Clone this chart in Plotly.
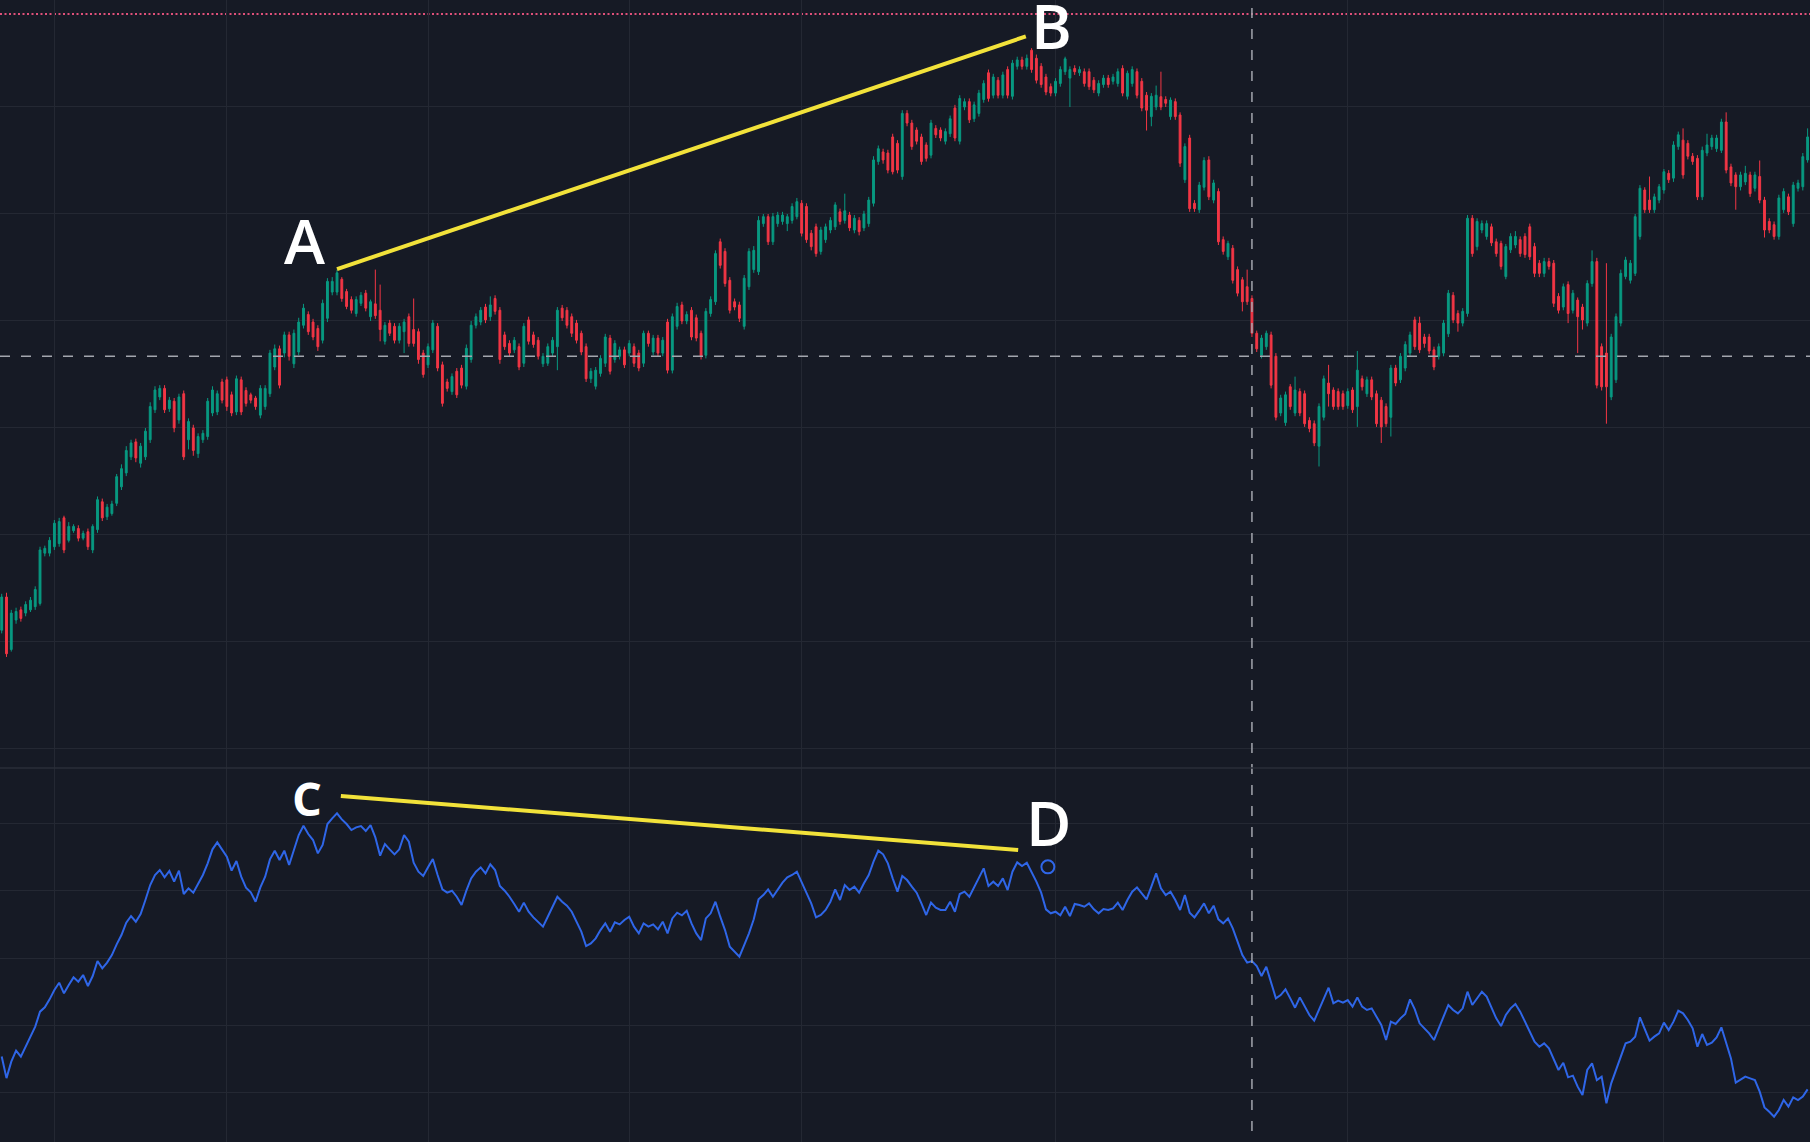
import plotly.graph_objects as go

# daily candles (price units)
opens = [
    141.1, 144.2, 139.3, 142.05, 143.0, 142.7, 143.0, 143.3, 143.6, 148.3,
    148.3, 148.9, 149.2, 151.6, 149.5, 150.4, 150.6, 149.7, 150.3, 148.6,
    150.5, 153.1, 151.7, 152.0, 152.96, 154.5, 155.8, 157.3, 158.7, 156.7,
    157.3, 158.9, 161.7, 162.9, 163.7, 161.8, 162.5, 160.75, 163.2, 158.9,
    160.0, 157.6, 158.9, 159.2, 161.4, 161.5, 164.3, 164.5, 163.1, 161.5,
    164.5, 163.5, 163.1, 162.8, 161.2, 162.0, 163.2, 165.7, 167.4, 167.0,
    168.7, 166.0, 167.1, 169.6, 170.6, 169.9, 169.3, 168.2, 170.25, 172.7,
    172.7, 173.9, 172.75, 172.0, 170.7, 171.65, 172.6, 170.4, 171.6, 171.0,
    168.1, 169.8, 169.5, 168.2, 169.0, 170.4, 169.2, 169.0, 167.0, 165.9,
    167.3, 169.5, 165.9, 164.3, 163.4, 165.3, 165.6, 163.9, 166.4, 169.6,
    169.9, 171.3, 170.4, 172.1, 171.0, 168.7, 167.9, 167.3, 167.6, 166.05,
    170.1, 168.7, 168.2, 166.0, 166.05, 167.0, 167.6, 171.2, 171.0, 170.4,
    169.8, 168.85, 167.6, 164.6, 163.9, 165.1, 166.05, 168.4, 166.4, 166.7,
    167.3, 167.0, 167.6, 167.0, 166.05, 168.85, 167.1, 168.4, 167.0, 169.9,
    165.4, 169.5, 171.5, 170.0, 171.0, 170.3, 168.85, 166.8, 170.7, 171.8,
    177.4, 176.5, 173.8, 171.8, 171.5, 169.5, 173.2, 174.8, 174.6, 179.1,
    179.75, 177.4, 179.1, 179.3, 179.1, 179.4, 179.75, 181.0, 180.7, 178.2,
    178.8, 176.5, 177.6, 178.5, 178.8, 180.2, 179.4, 179.9, 178.5, 179.4,
    178.7, 179.1, 181.0, 184.9, 185.8, 185.7, 187.2, 186.6, 183.5, 189.4,
    188.5, 187.85, 187.2, 186.45, 185.5, 188.0, 187.85, 186.8, 187.5, 189.9,
    186.8, 190.0, 190.5, 188.9, 189.4, 190.7, 193.2, 191.1, 192.5, 191.1,
    193.5, 191.0, 193.8, 194.4, 193.8, 195.3, 194.55, 193.8, 192.8, 191.9,
    191.3, 192.2, 193.3, 192.7, 193.6, 193.2, 193.3, 193.3, 192.5, 191.3,
    192.1, 192.7, 192.4, 192.2, 193.6, 191.0, 192.2, 193.3, 192.4, 191.1,
    189.1, 190.0, 190.96, 190.7, 189.1, 190.5, 189.25, 183.2, 187.1, 181.0,
    180.4, 182.5, 185.05, 181.3, 182.1, 177.6, 176.0, 176.8, 174.8, 173.85,
    173.2, 172.1, 168.85, 166.8, 167.6, 168.7, 166.7, 161.4, 160.5, 163.85,
    161.4, 163.4, 163.2, 160.7, 160.4, 158.3, 161.0, 164.2, 163.55, 163.4,
    163.2, 162.1, 163.55, 162.0, 164.6, 163.2, 164.5, 163.2, 162.6, 162.0,
    161.0, 165.6, 164.5, 165.6, 167.0, 170.1, 169.8, 168.5, 168.5, 167.3,
    166.7, 167.0, 168.8, 172.4, 170.7, 169.8, 170.7, 179.6, 176.95, 178.5,
    177.9, 178.8, 177.4, 177.25, 174.15, 176.65, 177.1, 177.6, 177.9, 178.8,
    176.95, 175.4, 174.45, 175.55, 175.4, 172.3, 171.3, 173.4, 171.0, 171.95,
    171.3, 169.8, 173.5, 175.55, 167.6, 167.0, 162.9, 164.5, 169.8, 174.15,
    173.8, 174.45, 177.9, 182.24, 181.3, 180.4, 181.3, 182.24, 183.8, 183.35,
    186.3, 186.9, 186.6, 185.4, 185.2, 181.6, 185.7, 186.3, 186.1, 185.95,
    188.6, 184.4, 183.65, 182.55, 183.0, 183.65, 182.4, 183.5, 181.3, 179.3,
    179.0, 177.9, 180.4, 181.6, 179.1, 182.4, 182.55, 185.05,
]
highs = [
    144.5, 144.6, 143.0, 143.2, 143.3, 143.8, 144.2, 145.2, 148.9, 149.0,
    149.8, 151.4, 151.6, 151.8, 151.2, 151.0, 150.9, 150.4, 150.6, 151.0,
    153.6, 153.4, 152.9, 153.2, 155.7, 156.6, 158.3, 158.9, 159.0, 158.6,
    160.0, 162.4, 163.9, 164.0, 164.0, 162.9, 162.8, 163.2, 163.5, 160.9,
    160.3, 159.5, 159.8, 162.8, 163.9, 163.5, 164.6, 164.8, 163.4, 164.9,
    164.8, 163.8, 163.3, 163.0, 164.0, 164.0, 167.3, 167.8, 167.7, 169.0,
    169.0, 169.2, 170.3, 171.6, 170.9, 170.2, 169.6, 172.0, 174.0, 174.1,
    174.8, 174.1, 173.0, 172.3, 172.3, 172.7, 172.9, 172.0, 174.8, 173.4,
    169.9, 170.1, 169.8, 169.8, 170.2, 170.7, 172.1, 169.3, 167.3, 167.9,
    170.1, 169.8, 166.2, 164.6, 165.1, 165.6, 165.9, 167.8, 170.0, 170.7,
    171.3, 171.6, 172.3, 172.4, 171.3, 169.0, 168.2, 168.5, 167.9, 169.8,
    170.4, 169.0, 168.5, 167.0, 167.9, 168.5, 171.3, 171.5, 171.3, 170.7,
    170.1, 169.1, 167.9, 165.6, 165.7, 166.8, 168.8, 168.7, 168.2, 167.6,
    167.6, 168.2, 167.9, 167.3, 169.1, 169.1, 168.7, 168.7, 168.5, 170.2,
    170.7, 171.7, 171.8, 170.9, 171.3, 170.6, 169.1, 171.2, 172.3, 176.6,
    177.7, 176.8, 174.1, 172.1, 171.8, 174.3, 176.8, 177.0, 179.8, 180.0,
    180.0, 180.1, 180.2, 180.2, 180.0, 181.0, 181.5, 181.3, 181.0, 178.5,
    179.1, 178.8, 179.1, 179.7, 181.1, 180.5, 181.9, 180.2, 179.9, 179.7,
    180.3, 181.6, 185.4, 186.4, 186.1, 186.0, 187.5, 186.9, 189.7, 189.7,
    188.8, 188.1, 187.5, 186.7, 188.8, 188.3, 188.1, 188.0, 189.2, 190.2,
    191.1, 190.8, 190.8, 190.5, 191.6, 192.5, 193.5, 193.1, 192.8, 193.3,
    193.8, 194.4, 194.7, 194.7, 194.9, 195.5, 194.9, 194.1, 193.1, 192.2,
    192.7, 193.8, 194.7, 193.8, 193.9, 193.8, 193.6, 193.6, 192.8, 192.5,
    193.0, 193.0, 193.1, 193.6, 193.9, 193.4, 193.8, 193.6, 192.7, 191.4,
    191.3, 192.0, 193.3, 191.0, 190.9, 190.8, 189.5, 186.6, 187.4, 181.3,
    183.0, 185.3, 185.4, 183.2, 182.4, 177.9, 177.5, 177.1, 175.1, 174.1,
    174.8, 172.4, 169.1, 168.7, 169.1, 169.0, 167.0, 163.1, 163.4, 164.1,
    164.8, 163.7, 163.5, 161.0, 160.7, 162.3, 164.9, 165.9, 163.8, 163.7,
    163.5, 163.7, 163.8, 167.2, 164.9, 164.8, 164.8, 163.5, 162.9, 162.3,
    165.9, 165.9, 167.0, 168.1, 169.0, 170.4, 170.4, 168.8, 168.8, 167.6,
    167.9, 170.1, 172.9, 172.7, 171.0, 171.2, 179.9, 179.9, 179.6, 179.4,
    179.4, 179.1, 177.7, 177.5, 177.2, 178.2, 178.4, 177.9, 178.2, 179.1,
    177.3, 175.7, 175.9, 175.9, 175.7, 172.6, 173.5, 173.7, 172.9, 172.2,
    171.6, 173.8, 176.6, 175.9, 167.9, 175.4, 168.8, 170.7, 174.8, 176.0,
    175.7, 180.0, 182.7, 182.5, 183.5, 181.9, 182.8, 184.2, 184.1, 186.8,
    187.7, 188.0, 186.9, 185.7, 185.5, 186.3, 187.5, 187.4, 187.4, 188.9,
    189.5, 184.7, 183.9, 183.95, 184.5, 183.95, 183.95, 185.0, 181.6, 179.6,
    179.3, 181.8, 182.4, 181.9, 183.0, 183.2, 185.7, 188.0,
]
lows = [
    140.8, 138.6, 139.1, 141.7, 141.9, 142.4, 142.8, 143.0, 143.4, 148.0,
    148.0, 148.6, 148.9, 148.3, 149.3, 150.2, 149.4, 149.5, 148.6, 148.3,
    150.2, 151.3, 151.4, 151.8, 152.7, 154.2, 155.5, 157.0, 156.8, 156.3,
    157.0, 158.6, 161.4, 162.6, 161.4, 161.5, 159.6, 160.4, 157.0, 158.0,
    157.4, 157.2, 158.6, 158.9, 161.1, 161.2, 162.3, 161.6, 161.1, 161.2,
    161.2, 162.0, 162.3, 161.7, 160.9, 161.7, 162.9, 165.4, 163.7, 166.6,
    166.3, 165.6, 166.8, 169.3, 168.7, 168.2, 167.2, 167.9, 169.9, 172.4,
    172.4, 171.8, 171.1, 170.7, 170.4, 171.4, 170.9, 170.0, 170.2, 168.1,
    167.8, 168.6, 167.9, 167.9, 167.0, 167.6, 167.6, 166.0, 164.7, 165.6,
    167.0, 165.3, 162.0, 163.4, 163.1, 162.8, 163.7, 163.6, 166.1, 169.3,
    169.6, 169.8, 170.0, 170.6, 166.0, 167.3, 166.7, 167.0, 165.4, 165.7,
    167.8, 167.5, 166.4, 165.7, 165.8, 166.7, 165.4, 170.0, 169.3, 168.5,
    167.9, 166.8, 164.3, 164.2, 163.6, 164.8, 165.7, 165.0, 166.1, 166.4,
    165.6, 166.7, 165.7, 165.3, 165.7, 167.6, 166.8, 166.7, 166.7, 165.1,
    165.1, 169.2, 169.7, 169.7, 168.2, 168.1, 166.4, 166.5, 170.4, 171.5,
    174.9, 173.2, 170.7, 171.0, 169.9, 169.2, 172.9, 174.5, 174.3, 178.8,
    177.1, 177.1, 178.8, 179.0, 178.4, 179.1, 179.5, 177.9, 177.3, 176.6,
    176.0, 176.2, 177.3, 178.2, 178.5, 179.0, 179.1, 178.4, 178.2, 178.0,
    178.4, 178.8, 180.7, 184.6, 184.7, 183.8, 183.7, 183.8, 183.2, 188.2,
    186.0, 186.5, 184.6, 184.9, 185.2, 187.1, 186.8, 186.5, 187.2, 186.8,
    186.5, 189.7, 188.5, 188.6, 189.1, 190.4, 190.5, 190.8, 190.8, 190.8,
    190.8, 190.7, 193.5, 193.5, 193.5, 193.2, 192.2, 191.8, 191.1, 191.0,
    191.0, 191.9, 193.0, 190.0, 193.0, 192.9, 191.9, 191.6, 191.3, 191.0,
    191.8, 191.8, 192.1, 191.9, 191.0, 190.7, 191.9, 190.8, 189.6, 187.8,
    188.2, 189.7, 189.7, 190.0, 188.8, 188.8, 184.4, 182.9, 180.2, 180.2,
    180.1, 182.2, 181.3, 181.0, 177.1, 176.2, 175.7, 173.5, 172.3, 170.9,
    171.5, 168.5, 167.1, 166.5, 167.3, 163.7, 160.7, 161.1, 160.2, 161.7,
    161.1, 161.1, 160.1, 159.6, 158.3, 156.4, 160.7, 162.0, 161.7, 161.7,
    161.7, 161.8, 161.4, 160.1, 163.5, 162.9, 162.6, 160.1, 158.6, 160.1,
    159.2, 163.9, 164.2, 165.3, 166.7, 167.3, 167.0, 167.5, 166.9, 165.4,
    166.4, 166.7, 168.5, 169.8, 169.0, 169.5, 170.4, 176.0, 176.6, 178.2,
    177.6, 177.0, 176.0, 174.8, 173.9, 176.35, 176.8, 176.0, 175.9, 175.7,
    174.1, 174.1, 174.1, 174.8, 171.3, 170.7, 171.0, 169.8, 170.7, 167.0,
    169.2, 169.5, 173.2, 163.7, 163.5, 160.4, 162.6, 164.2, 169.5, 173.9,
    173.5, 174.2, 177.6, 180.1, 180.1, 180.1, 181.0, 181.9, 182.9, 183.0,
    186.0, 183.3, 185.1, 184.6, 181.3, 181.3, 185.4, 186.0, 185.8, 185.7,
    183.8, 182.6, 180.4, 182.2, 182.7, 181.6, 182.1, 181.0, 177.8, 178.2,
    177.6, 177.6, 180.1, 179.9, 178.8, 182.1, 182.2, 184.8,
]
closes = [
    144.2, 138.9, 142.7, 142.85, 142.2, 143.5, 143.9, 144.9, 148.6, 148.75,
    149.5, 151.1, 151.25, 148.6, 150.8, 150.8, 149.7, 150.15, 148.9, 150.8,
    153.3, 151.6, 152.6, 152.9, 155.45, 156.2, 157.9, 158.6, 157.2, 158.3,
    159.7, 162.0, 163.55, 163.7, 161.7, 162.6, 160.0, 162.9, 157.3, 160.6,
    157.9, 159.2, 159.5, 162.5, 163.55, 163.2, 162.6, 162.0, 161.4, 164.6,
    161.5, 162.3, 162.6, 162.0, 163.7, 163.7, 167.0, 167.4, 164.0, 168.7,
    166.7, 168.85, 169.9, 171.2, 169.0, 168.5, 167.6, 171.65, 173.7, 173.7,
    174.5, 172.1, 171.35, 171.0, 172.0, 172.4, 171.2, 171.8, 170.5, 169.2,
    169.6, 168.85, 168.2, 169.5, 169.9, 167.9, 167.9, 166.4, 165.0, 167.6,
    169.8, 165.6, 162.3, 163.7, 164.8, 163.1, 164.0, 167.45, 169.6, 170.4,
    171.0, 170.1, 171.5, 170.9, 166.4, 167.6, 167.0, 168.2, 165.7, 169.5,
    168.1, 167.8, 166.7, 166.7, 167.6, 168.2, 171.0, 170.3, 169.6, 168.85,
    168.2, 167.1, 164.6, 165.3, 165.4, 166.5, 168.5, 165.3, 167.9, 167.3,
    165.9, 167.9, 166.05, 165.6, 168.85, 167.9, 168.4, 167.0, 168.2, 165.4,
    170.4, 171.35, 170.0, 170.6, 168.5, 168.4, 166.7, 170.9, 172.0, 176.3,
    175.2, 173.5, 171.0, 171.3, 170.25, 174.0, 176.5, 176.6, 179.4, 179.75,
    177.4, 179.75, 179.9, 179.9, 179.75, 180.7, 181.15, 178.2, 177.6, 176.95,
    176.3, 178.5, 178.8, 179.4, 180.85, 179.3, 180.3, 178.7, 179.6, 178.35,
    180.0, 181.3, 185.05, 186.1, 185.05, 184.1, 183.95, 184.1, 189.4, 188.5,
    186.3, 186.8, 184.9, 185.2, 188.5, 187.4, 187.1, 187.7, 188.9, 187.1,
    190.8, 190.5, 188.8, 190.2, 191.3, 192.2, 190.8, 192.8, 191.1, 193.0,
    191.1, 194.1, 194.4, 193.8, 194.55, 193.5, 192.5, 192.1, 191.4, 191.3,
    192.4, 193.5, 194.5, 193.5, 193.3, 193.5, 192.2, 191.9, 191.6, 192.2,
    192.7, 192.1, 192.8, 193.3, 191.3, 193.15, 193.5, 191.1, 189.9, 189.7,
    191.0, 191.1, 190.0, 190.35, 190.65, 189.1, 184.75, 186.3, 180.5, 180.5,
    182.7, 185.0, 181.6, 182.9, 177.4, 176.5, 177.25, 173.8, 172.6, 171.8,
    171.8, 168.85, 167.4, 168.4, 168.85, 164.0, 161.0, 162.8, 163.1, 162.0,
    163.55, 161.4, 160.4, 159.95, 158.6, 162.0, 164.6, 163.2, 162.0, 162.0,
    162.0, 163.4, 161.7, 165.4, 163.85, 164.5, 162.9, 160.4, 160.1, 160.4,
    165.6, 164.2, 166.7, 167.8, 168.7, 167.6, 167.3, 167.9, 167.2, 165.7,
    167.6, 169.8, 172.6, 170.1, 169.8, 170.9, 179.6, 176.3, 179.3, 179.1,
    179.1, 177.3, 176.3, 175.1, 176.95, 177.9, 177.9, 176.3, 176.2, 176.0,
    174.45, 174.45, 175.55, 175.1, 171.65, 171.0, 173.2, 170.7, 172.6, 170.4,
    170.1, 173.5, 175.55, 164.0, 163.85, 163.85, 168.5, 170.4, 174.45, 175.7,
    175.4, 179.75, 182.4, 180.4, 180.4, 181.6, 182.55, 183.95, 183.2, 186.45,
    187.4, 183.65, 185.4, 184.9, 181.6, 185.95, 186.45, 187.1, 187.1, 188.6,
    184.1, 182.9, 182.55, 183.65, 183.8, 181.9, 183.65, 181.3, 178.5, 178.5,
    177.9, 181.5, 182.1, 180.2, 182.7, 182.9, 185.36, 187.2,
]

# volume-style indicator in the lower pane
obv = [
    5.4, 2.2, 4.64, 6.27, 5.38, 6.86, 8.35, 9.83, 12.05, 12.69,
    13.87, 15.26, 16.34, 14.77, 16.0, 17.13, 16.49, 17.48, 15.85, 17.33,
    19.55, 18.47, 19.31, 20.44, 22.02, 23.4, 25.23, 26.22, 25.38, 26.52,
    28.59, 30.81, 32.3, 33.03, 31.95, 32.89, 31.31, 32.94, 29.48, 30.32,
    29.68, 31.06, 32.3, 34.02, 36.1, 37.13, 36.1, 35.01, 32.94, 34.37,
    32.05, 30.42, 29.73, 28.34, 30.47, 32.05, 34.61, 35.9, 34.52, 35.9,
    33.77, 36.1, 38.22, 39.6, 38.37, 37.48, 35.5, 36.74, 39.85, 40.69,
    41.43, 40.54, 39.85, 38.96, 39.35, 39.55, 38.81, 39.7, 37.87, 35.16,
    36.89, 36.1, 35.36, 36.1, 38.22, 37.23, 34.12, 32.79, 32.15, 33.43,
    34.66, 32.3, 30.17, 29.68, 29.97, 29.08, 27.85, 29.97, 31.8, 32.79,
    33.43, 32.54, 33.87, 33.03, 30.67, 29.97, 29.08, 28.0, 26.86, 28.2,
    26.86, 26.02, 25.28, 24.64, 26.12, 27.6, 29.08, 28.34, 27.75, 26.86,
    25.38, 23.9, 21.77, 22.17, 22.91, 24.14, 25.13, 23.9, 25.28, 24.98,
    25.63, 26.12, 24.64, 23.65, 25.13, 24.64, 24.98, 24.24, 25.38, 23.65,
    25.87, 26.71, 26.32, 27.01, 25.13, 23.65, 22.66, 25.87, 26.62, 28.34,
    26.12, 24.14, 21.68, 20.94, 20.2, 21.92, 23.65, 25.73, 28.69, 29.33,
    30.17, 29.08, 30.07, 31.16, 31.95, 32.3, 32.79, 31.31, 29.58, 28.1,
    26.02, 26.37, 27.11, 28.34, 30.17, 28.59, 30.81, 30.07, 30.57, 29.68,
    31.06, 32.3, 34.27, 35.9, 35.36, 34.02, 31.8, 29.83, 32.15, 31.55,
    30.57, 29.68, 28.1, 26.37, 28.2, 27.45, 27.11, 27.11, 28.34, 26.86,
    29.48, 29.83, 29.08, 30.47, 31.8, 33.28, 30.67, 31.31, 30.67, 31.8,
    30.07, 32.79, 34.17, 33.63, 34.12, 32.79, 31.31, 29.68, 27.21, 26.62,
    26.86, 26.32, 27.6, 26.22, 28.0, 27.85, 27.6, 28.1, 27.21, 26.62,
    27.26, 27.11, 27.36, 28.2, 27.11, 28.59, 29.83, 30.47, 29.58, 28.69,
    30.57, 32.54, 30.32, 29.33, 29.83, 28.59, 27.11, 29.33, 26.71, 26.02,
    27.01, 28.1, 26.62, 27.75, 25.73, 25.13, 25.87, 24.39, 22.42, 20.44,
    19.31, 19.55, 18.81, 17.33, 18.71, 16.49, 14.02, 14.51, 15.36, 14.02,
    12.64, 14.17, 12.79, 11.55, 10.71, 12.3, 14.02, 15.6, 13.28, 13.68,
    13.38, 13.77, 12.79, 14.17, 12.79, 12.3, 12.54, 11.31, 10.07, 7.85,
    10.57, 10.22, 11.06, 11.7, 13.87, 12.39, 10.32, 9.58, 8.84, 7.85,
    9.58, 11.31, 13.04, 12.3, 11.8, 12.54, 15.01, 13.04, 14.02, 15.01,
    14.27, 12.79, 11.06, 9.92, 11.55, 12.54, 13.18, 12.05, 10.57, 9.09,
    7.6, 6.86, 7.36, 6.62, 5.13, 3.41, 4.49, 2.32, 2.57, 0.94,
    -0.3, 3.41, 4.4, 1.92, 2.42, -1.53, 1.43, 3.41, 5.63, 7.36,
    7.6, 8.35, 11.21, 9.58, 7.75, 8.35, 8.84, 10.42, 9.33, 10.57,
    12.2, 11.8, 10.81, 9.58, 6.86, 8.74, 7.11, 7.46, 8.25, 9.73,
    7.36, 5.13, 1.53, 2.02, 2.42, 2.17, 1.92, 0.2, -2.13, -2.77,
    -3.51, -2.52, -1.04, -2.03, -0.64, -1.04, -0.54, 0.54,
]

# bars where a new month starts (vertical grid)
month_starts = [11, 47, 89, 131, 167, 220, 281, 347]

# divergence drawing: price highs A-B, indicator highs C-D
price_line_idx = [70, 213.8]
price_line_val = [174.85, 196.6]
ind_line_idx = [70.8, 212.2]
ind_line_val = [44.0, 36.0]
labels_price = [("A", 63.3, 177.6), ("B", 219.1, 197.7)]
labels_ind = [("C", 63.7, 43.7), ("D", 218.6, 40.1)]
marker_pt = (218.4, 33.5)

alert_price = 198.7
cross_idx = 261
cross_price = 166.7

BG = "#161a25"
GRID = "#242833"
UP = "#089981"
DOWN = "#f23645"
BLUE = "#2f66e8"
YELLOW = "#f2e23a"
CROSS = "#a3a6ae"

idx = list(range(len(closes)))

fig = go.Figure()
fig.add_trace(go.Candlestick(
    x=idx, open=opens, high=highs, low=lows, close=closes,
    increasing=dict(line=dict(color=UP, width=1), fillcolor=UP),
    decreasing=dict(line=dict(color=DOWN, width=1), fillcolor=DOWN),
    whiskerwidth=0, showlegend=False, hoverinfo="skip",
    xaxis="x", yaxis="y",
))
fig.add_trace(go.Scatter(
    x=idx, y=obv, mode="lines", line=dict(color=BLUE, width=2),
    showlegend=False, hoverinfo="skip", xaxis="x2", yaxis="y2",
))
fig.add_trace(go.Scatter(
    x=price_line_idx, y=price_line_val, mode="lines",
    line=dict(color=YELLOW, width=4), showlegend=False,
    xaxis="x", yaxis="y",
))
fig.add_trace(go.Scatter(
    x=ind_line_idx, y=ind_line_val, mode="lines",
    line=dict(color=YELLOW, width=4), showlegend=False,
    xaxis="x2", yaxis="y2",
))
fig.add_trace(go.Scatter(
    x=[marker_pt[0]], y=[marker_pt[1]], mode="markers",
    marker=dict(symbol="circle-open", size=13, color=BLUE, line=dict(width=2, color=BLUE)),
    showlegend=False, xaxis="x2", yaxis="y2",
))

annotations = []
for text, xi, yv in labels_price:
    annotations.append(dict(x=xi, y=yv, xref="x", yref="y", text=text, showarrow=False,
                            font=dict(family="Open Sans", size=62, color="white", weight=600)))
for text, xi, yv in labels_ind:
    size = 47 if text == "C" else 62
    weight = 700 if text == "C" else 600
    annotations.append(dict(x=xi, y=yv, xref="x2", yref="y2", text=text, showarrow=False,
                            font=dict(family="Open Sans", size=size, color="white", weight=weight)))

shapes = [
    dict(type="line", xref="paper", x0=0, x1=1, yref="y", y0=alert_price, y1=alert_price,
         line=dict(color="#e0507a", width=2, dash="2px,2.5px"), layer="below"),
    dict(type="line", xref="paper", x0=0, x1=1, yref="y", y0=cross_price, y1=cross_price,
         line=dict(color=CROSS, width=1.5, dash="10px,11px")),
    dict(type="line", xref="x", x0=cross_idx, x1=cross_idx, yref="paper", y0=0.0096, y1=1,
         line=dict(color=CROSS, width=1.5, dash="10px,11px")),
    dict(type="line", xref="paper", x0=0, x1=1, yref="paper", y0=0.3275, y1=0.3275,
         line=dict(color="#2a2e39", width=1.5)),
]

axis_common = dict(showticklabels=False, showline=False, zeroline=False,
                   gridcolor=GRID, gridwidth=1, fixedrange=True)

fig.update_layout(
    width=1810, height=1142,
    margin=dict(l=0, r=0, t=0, b=0),
    paper_bgcolor=BG, plot_bgcolor=BG,
    showlegend=False,
    boxgap=0.45,
    annotations=annotations,
    shapes=shapes,
    xaxis=dict(domain=[0, 1], anchor="y", range=[-0.355, 377.5], tickvals=month_starts,
               rangeslider=dict(visible=False), **axis_common),
    xaxis2=dict(domain=[0, 1], anchor="y2", range=[-0.355, 377.5], tickvals=month_starts,
                matches="x", **axis_common),
    yaxis=dict(domain=[0.3275, 1], range=[128.22, 200], dtick=10, **axis_common),
    yaxis2=dict(domain=[0, 0.3275], range=[-7.26, 48.15], dtick=10, **axis_common),
)

# page without the default body margin, so the chart fills the window
page_js = "document.body.style.margin='0';document.body.style.background='#161a25';"
fig.write_html("out.html", post_script=page_js, config={"displayModeBar": False})
